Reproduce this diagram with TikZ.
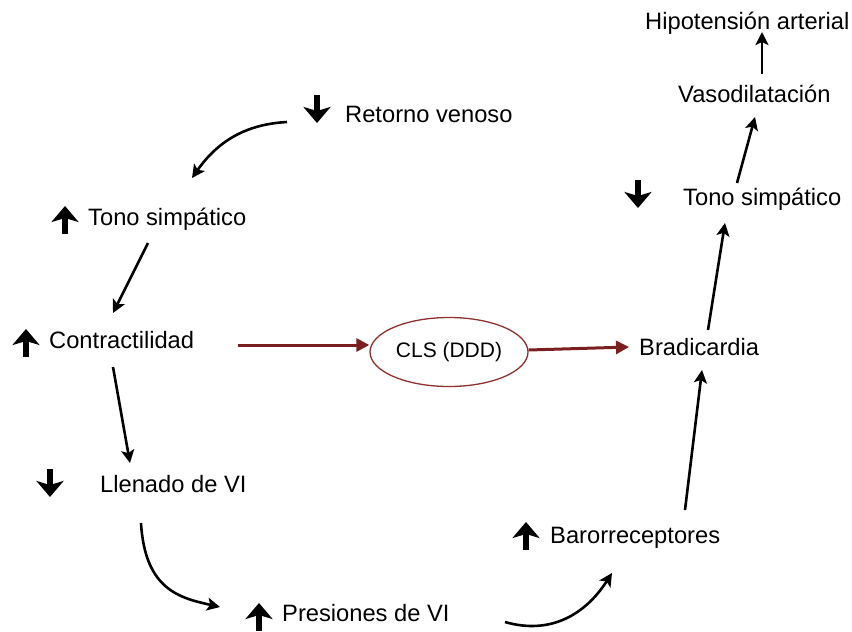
\documentclass[tikz,border=0pt]{standalone}
\usepackage{fontspec}
\setmainfont{Liberation Sans}
\usetikzlibrary{arrows.meta,shapes.geometric}
\definecolor{Wine}{HTML}{7A1F1F}
\definecolor{WineLine}{HTML}{8E3030}
\tikzset{lbl/.style={anchor=base west,inner sep=0pt,font=\fontsize{23.7}{28}\selectfont},oval/.style={ellipse,draw=WineLine,line width=1.3pt,minimum width=158pt,minimum height=69pt,inner sep=0pt,font=\fontsize{21}{25}\selectfont},flow/.style={-{Stealth[length=13pt,width=13pt,inset=3pt]},line width=2.6pt,draw=black},redflow/.style={-{Triangle[length=13pt,width=13pt]},line width=3pt,draw=Wine},icon/.style={line width=6.5pt,-{Stealth[length=16pt,width=27pt,inset=4pt]}},upmark/.pic={\draw[icon](0,14)--(0,-14);},downmark/.pic={\draw[icon](0,-14)--(0,14);}}
\begin{document}
\begin{tikzpicture}[x=1pt,y=-1pt]
  \useasboundingbox (0,0) rectangle (852,632);
  % left loop
  \node[lbl](retorno) at (345,122){Retorno venoso};
  \node[lbl](tonoL) at (88,225){Tono simpático};
  \node[lbl](contra) at (49,348){Contractilidad};
  \node[lbl](llenado) at (100,492){Llenado de VI};
  \node[lbl](presiones) at (282,621){Presiones de VI};
  \node[lbl](baro) at (550,543){Barorreceptores};
  % right column
  \node[lbl](brad) at (639,355){Bradicardia};
  \node[lbl](tonoR) at (683,205){Tono simpático};
  \node[lbl](vaso) at (678,102){Vasodilatación};
  \node[lbl](hipo) at (645,29){Hipotensión arterial};
  \node[oval](cls) at (449,352){CLS (DDD)};
  \pic at (317,109){downmark};\pic at (65,220){upmark};\pic at (26,343){upmark};\pic at (50,483){downmark};
  \pic at (259,617){upmark};\pic at (526,536){upmark};\pic at (638,194){downmark};
  \draw[flow]([shift={(-58,0)}]retorno.base west) .. controls +(-37,2) and +(28,-40) .. ([shift={(104,-47)}]tonoL.base west);
  \draw[flow]([shift={(60,18)}]tonoL.base west)--([shift={(64,-35)}]contra.base west);
  \draw[flow]([shift={(64,19)}]contra.base west)--([shift={(30,-29)}]llenado.base west);
  \draw[flow]([shift={(41,31)}]llenado.base west) .. controls +(4,67) and +(-40,-9) .. ([shift={(-62,-14)}]presiones.base west);
  \draw[flow]([shift={(223,1)}]presiones.base west) .. controls +(45,13) and +(-27,42) .. ([shift={(62,30)}]baro.base west);
  \draw[flow]([shift={(135,-33)}]baro.base west)--([shift={(63,15)}]brad.base west);
  \draw[flow]([shift={(69,-25)}]brad.base west)--([shift={(42,18)}]tonoR.base west);
  \draw[flow]([shift={(54,-22)}]tonoR.base west)--([shift={(77,15)}]vaso.base west);
  \draw[flow]([shift={(84,-28)}]vaso.base west)--([shift={(117,3)}]hipo.base west);
  \draw[redflow]([shift={(189,-3)}]contra.base west)--([shift={(0,-7)}]cls.west);
  \draw[redflow]([shift={(0,-2)}]cls.east)--([shift={(-10,-8)}]brad.base west);
\end{tikzpicture}
\end{document}
